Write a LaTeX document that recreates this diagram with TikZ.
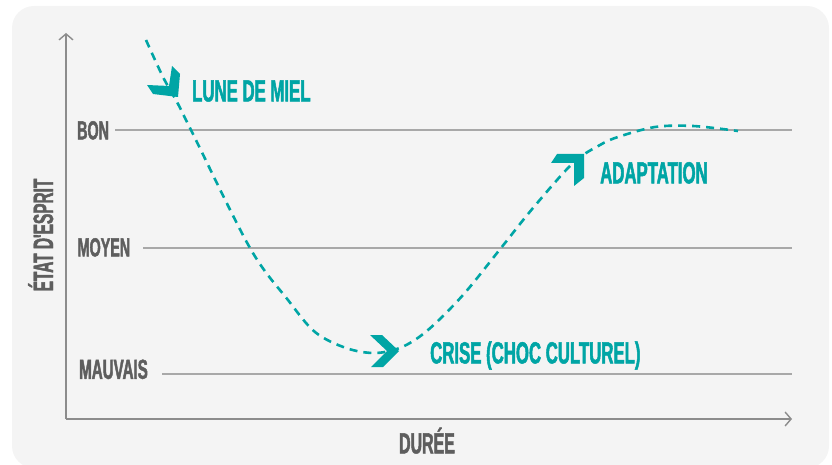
\documentclass[tikz,border=0pt]{standalone}
\usepackage{fontspec}
\usetikzlibrary{arrows.meta}
\newfontfamily\cond{Liberation Sans}[FakeStretch=0.55,FakeBold=1.6]
\definecolor{bgc}{HTML}{F4F4F4}
\definecolor{teal1}{RGB}{0,165,165}
\definecolor{labgrey}{HTML}{5E5E5E}
\definecolor{axisgrey}{HTML}{8C8C8C}
\definecolor{gridgrey}{HTML}{A8A8A8}
\tikzset{
  axisline/.style={draw=axisgrey, line width=1.4pt, -{Straight Barb[length=6pt,width=14pt]}},
  gridline/.style={draw=gridgrey, line width=1.2pt},
  glab/.style={font=\cond\bfseries\fontsize{26}{26}\selectfont, text=labgrey, inner sep=0pt, text height=18.6pt, text depth=0pt, anchor=west},
  tlab/.style={font=\cond\bfseries\fontsize{30.5}{30.5}\selectfont, text=teal1, inner sep=0pt, text height=21.8pt, text depth=0pt, anchor=west},
  curve/.style={draw=teal1, line width=2.6pt, dash pattern=on 8pt off 6pt},
  chev/.style={fill=teal1, draw=none}
}
\begin{document}
\begin{tikzpicture}[x=1pt,y=-1pt]
\useasboundingbox (0,0) rectangle (832,465);
\begin{scope}
\clip (0,0) rectangle (832,465);
\fill[bgc, rounded corners=22pt] (12,6) rectangle (829,468);
\end{scope}
% grid lines
\draw[gridline] (115,130) -- (792,130);
\draw[gridline] (143,248) -- (792,248);
\draw[gridline] (162,374) -- (792,374);
% axes
\coordinate (o) at (66,419);
\coordinate (ytop) at (66,33);
\coordinate (xend) at (792,419);
\draw[axisline] (o) -- (ytop);
\draw[axisline] (o) -- (xend);
% labels
\node[glab] (bon) at (77,130) {BON};
\node[glab] (moyen) at (77.5,247) {MOYEN};
\node[glab, font=\cond\bfseries\fontsize{27.5}{27.5}\selectfont, text height=19.6pt] (mauvais) at (79,369) {MAUVAIS};
\node[glab, font=\cond\bfseries\fontsize{28}{28}\selectfont, text height=20pt, anchor=center, rotate=90] (etat) at (43,235) {ÉTAT D'ESPRIT};
\node[glab, font=\cond\bfseries\fontsize{29}{29}\selectfont, text height=20.8pt, anchor=center] (duree) at (427,443) {DURÉE};
\node[tlab] (lune) at (192,90.5) {LUNE DE MIEL};
\node[tlab] (crise) at (430,352.5) {CRISE (CHOC CULTUREL)};
\node[tlab] (adapt) at (600,172.5) {ADAPTATION};
% curve
\draw[curve] plot[smooth, tension=0.55] coordinates {
(146,40) (163,77) (177,102) (191,130) (250,248) (288,300) (315,332) (346,348) (375,353) (402,347) (428,330) (463,295) (501,248) (533,208) (573,163) (600,145) (618,137) (655,127) (693,126) (738,131)};
% chevrons
\fill[chev] (172,66) -- (180,74) -- (178,97) -- (153,94) -- (147,85) -- (169,86) -- cycle;
\fill[chev] (370,335) -- (382,335) -- (399,351) -- (383,367) -- (371,367) -- (387,351) -- cycle;
\fill[chev] (557,154) -- (584,154) -- (584,178) -- (574,186) -- (574,163) -- (551,163) -- cycle;
\end{tikzpicture}
\end{document}
